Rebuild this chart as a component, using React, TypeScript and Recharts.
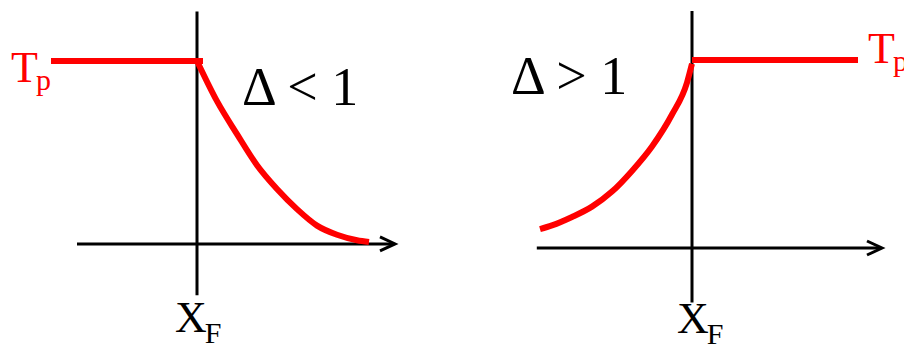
import React from "react";
import { LineChart, Line, XAxis, YAxis, ReferenceLine, ReferenceDot } from "recharts";

// x is distance from the feed point X_F, t is temperature relative to Tp
const tpLevel = 1;

// left panel: Δ < 1
const leftFlatX = [-3.65, 0.15];
const leftCurveX = [0, 0.5, 1, 1.5, 2, 2.5, 3, 3.5, 4, 4.3];
const leftCurveT = [1, 0.78, 0.6, 0.43, 0.3, 0.19, 0.1, 0.05, 0.02, 0.01];
const leftAxisX = [-3, 4.95];
const leftAxisT = [-0.28, 1.27];

// right panel: Δ > 1
const rightFlatX = [0, 4.15];
const rightCurveX = [-3.8, -3.5, -3, -2.5, -2, -1.5, -1, -0.5, -0.125, 0];
const rightCurveT = [0.1, 0.12, 0.165, 0.22, 0.3, 0.41, 0.54, 0.71, 0.88, 0.98];
const rightAxisX = [-3.88, 4.75];
const rightAxisT = [-0.29, 1.26];

const SERIF = "'Liberation Serif', 'Times New Roman', serif";
const RED = "#ff0000";

const toPoints = (xs: number[], ts: number[]) => xs.map((x, i) => ({ x, t: ts[i] }));

const leftFlat = leftFlatX.map((x) => ({ x, t: tpLevel }));
const leftCurve = toPoints(leftCurveX, leftCurveT);
const rightFlat = rightFlatX.map((x) => ({ x, t: tpLevel }));
const rightCurve = toPoints(rightCurveX, rightCurveT);

const PlainAxis = (p: any) => (
  <line x1={p.x1} y1={p.y1} x2={p.x2} y2={p.y2} stroke="#000" strokeWidth={3} />
);

const ArrowAxis = (p: any) => (
  <g>
    <line x1={p.x1} y1={p.y1} x2={p.x2 - 1} y2={p.y2} stroke="#000" strokeWidth={3} />
    <polyline
      points={`${p.x2 - 15},${p.y2 - 7} ${p.x2},${p.y2} ${p.x2 - 15},${p.y2 + 7}`}
      fill="none"
      stroke="#000"
      strokeWidth={3}
    />
  </g>
);

const txt = (size: number, color: string) => ({ fontFamily: SERIF, fontSize: size, fill: color });

// "X" with subscript "F", drawn at the x = 0 tick
const makeXfTick = (dx: number, dy: number) => (props: any) => {
  const { x, y } = props;
  return (
    <text x={x + dx} y={y + dy} style={txt(44, "#000")}>
      X
      <tspan dx={-2} dy={11} style={{ fontSize: 30 }}>F</tspan>
    </text>
  );
};

// "T" with subscript "p", drawn at the Tp tick
const makeTpTick = (dx: number, dy: number) => (props: any) => {
  const { x, y } = props;
  return (
    <text x={x + dx} y={y + dy} style={txt(44, RED)}>
      T
      <tspan dx={-2} dy={8} style={{ fontSize: 30 }}>p</tspan>
    </text>
  );
};

const deltaLabel = (text: string) => (props: any) => {
  const vb = props.viewBox || {};
  return (
    <text x={vb.x} y={vb.y} style={txt(54, "#000")}>
      {text}
    </text>
  );
};

function LeftPanel() {
  return (
    <LineChart width={452} height={346} margin={{ top: 6, right: 55, bottom: 0, left: 0 }}>
      <XAxis
        type="number"
        dataKey="x"
        domain={[-3.65, 5]}
        allowDataOverflow
        ticks={[0]}
        interval={0}
        axisLine={false}
        tickLine={false}
        tickSize={0}
        tickMargin={0}
        height={47.2}
        tick={makeXfTick(-22, 33)}
      />
      <YAxis
        type="number"
        dataKey="t"
        domain={[-0.3, 1.3]}
        allowDataOverflow
        ticks={[tpLevel]}
        interval={0}
        axisLine={false}
        tickLine={false}
        tickSize={0}
        tickMargin={0}
        width={51}
        tick={makeTpTick(-40, 21)}
      />
      <ReferenceLine
        segment={[{ x: leftAxisX[0], y: 0 }, { x: leftAxisX[1], y: 0 }]}
        ifOverflow="visible"
        shape={ArrowAxis}
      />
      <ReferenceLine
        segment={[{ x: 0, y: leftAxisT[0] }, { x: 0, y: leftAxisT[1] }]}
        ifOverflow="visible"
        shape={PlainAxis}
      />
      <ReferenceDot x={1.125} y={0.76} r={0} fill="none" stroke="none" label={deltaLabel("Δ < 1")} />
      <Line data={leftFlat} dataKey="t" type="linear" stroke={RED} strokeWidth={6} dot={false} activeDot={false} isAnimationActive={false} />
      <Line data={leftCurve} dataKey="t" type="monotone" stroke={RED} strokeWidth={6} dot={false} activeDot={false} isAnimationActive={false} />
    </LineChart>
  );
}

function RightPanel() {
  return (
    <LineChart width={452} height={346} margin={{ top: 3.6, right: 0, bottom: 0, left: 40 }}>
      <XAxis
        type="number"
        dataKey="x"
        domain={[-5, 4.15]}
        allowDataOverflow
        ticks={[0]}
        interval={0}
        axisLine={false}
        tickLine={false}
        tickSize={0}
        tickMargin={0}
        height={41.6}
        tick={makeXfTick(-15, 28.6)}
      />
      <YAxis
        type="number"
        dataKey="t"
        orientation="right"
        domain={[-0.3, 1.3]}
        allowDataOverflow
        ticks={[tpLevel]}
        interval={0}
        axisLine={false}
        tickLine={false}
        tickSize={0}
        tickMargin={0}
        width={46}
        tick={makeTpTick(10, 3)}
      />
      <ReferenceLine
        segment={[{ x: rightAxisX[0], y: 0 }, { x: rightAxisX[1], y: 0 }]}
        ifOverflow="visible"
        shape={ArrowAxis}
      />
      <ReferenceLine
        segment={[{ x: 0, y: rightAxisT[0] }, { x: 0, y: rightAxisT[1] }]}
        ifOverflow="visible"
        shape={PlainAxis}
      />
      <ReferenceDot x={-4.525} y={0.819} r={0} fill="none" stroke="none" label={deltaLabel("Δ > 1")} />
      <Line data={rightFlat} dataKey="t" type="linear" stroke={RED} strokeWidth={6} dot={false} activeDot={false} isAnimationActive={false} />
      <Line data={rightCurve} dataKey="t" type="monotone" stroke={RED} strokeWidth={6} dot={false} activeDot={false} isAnimationActive={false} />
    </LineChart>
  );
}

export default function App() {
  return (
    <div style={{ position: "absolute", left: 0, top: 0, width: 904, height: 346, background: "#fff", overflow: "hidden" }}>
      <div style={{ position: "absolute", left: 0, top: 0 }}>
        <LeftPanel />
      </div>
      <div style={{ position: "absolute", left: 452, top: 0 }}>
        <RightPanel />
      </div>
    </div>
  );
}
